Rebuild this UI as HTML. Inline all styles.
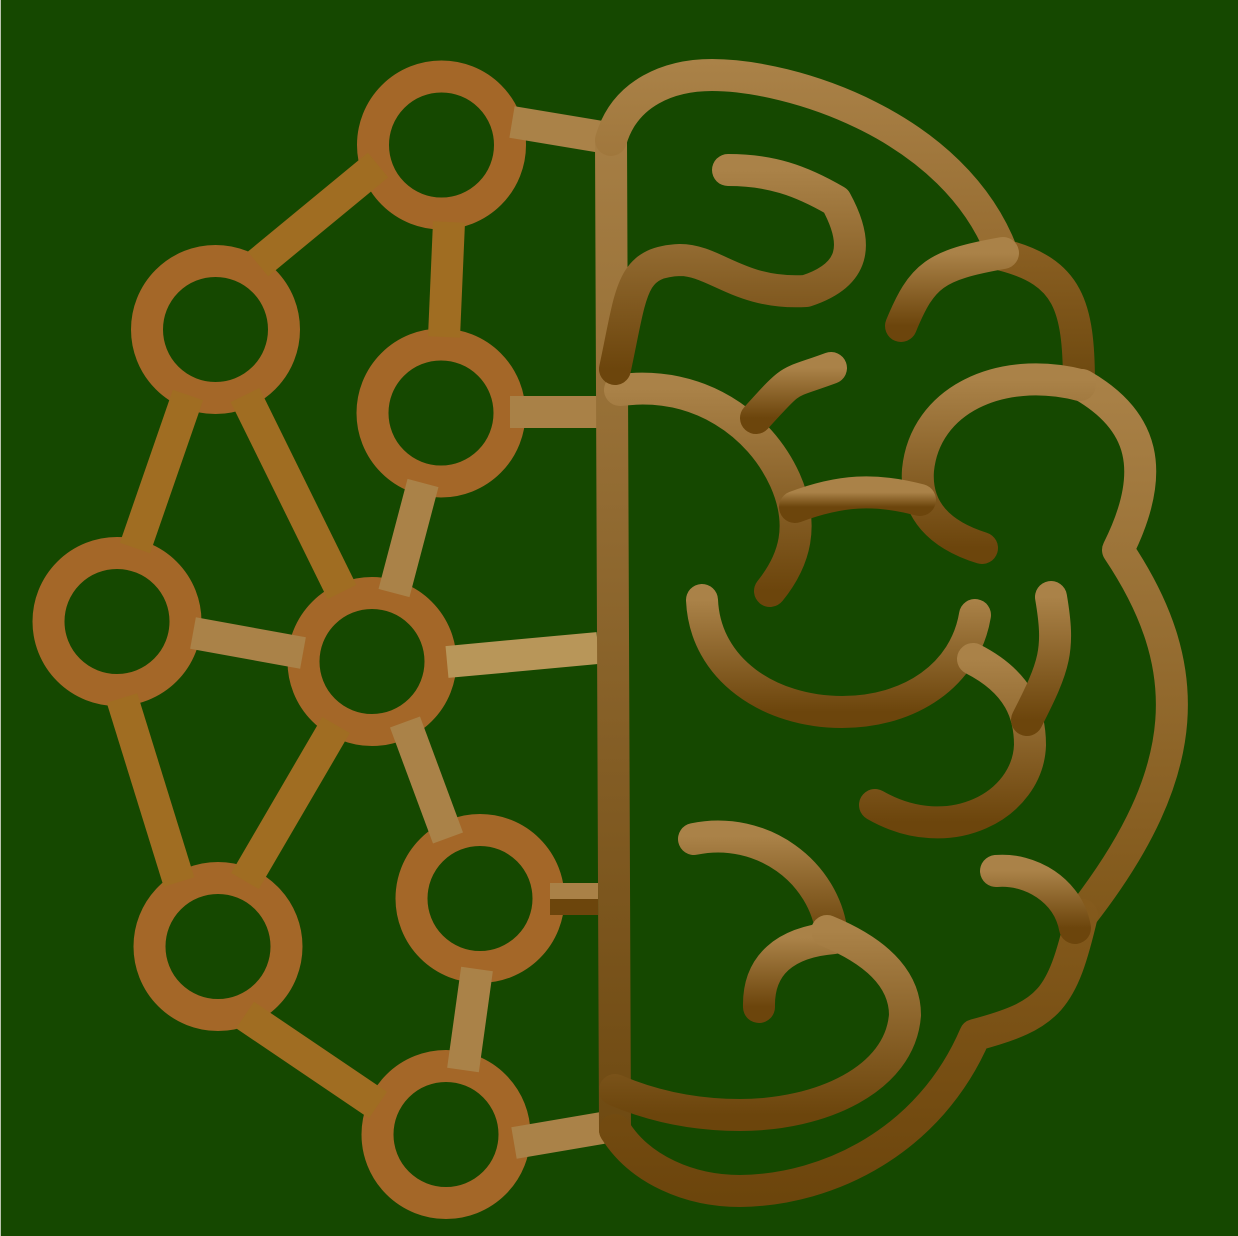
<!DOCTYPE html>
<html lang="en">
<head>
<meta charset="utf-8">
<title>AI brain icon</title>
<style>
html,body{margin:0;padding:0;background:#154800;width:1238px;height:1236px;overflow:hidden}
svg{display:block;position:absolute;left:0;top:0}
.n{fill:none;stroke:#a46728;stroke-width:32}
.l{stroke:#a06d22;stroke-width:32;fill:none}
.b{fill:none;stroke-width:32;stroke-linecap:butt}
.p{fill:none;stroke-width:32;stroke-linecap:round;stroke-linejoin:round}
</style>
</head>
<body>
<svg width="1238" height="1236" viewBox="0 0 1238 1236">
<defs>
<linearGradient id="g" x1="0" y1="0" x2="0" y2="1"><stop offset="0" stop-color="#aa8248"/><stop offset="1" stop-color="#6c450c"/></linearGradient>
<linearGradient id="g2" gradientUnits="userSpaceOnUse" x1="0" y1="60" x2="0" y2="1130"><stop offset="0" stop-color="#aa8248"/><stop offset="1" stop-color="#6f4a12"/></linearGradient>
<linearGradient id="g3" gradientUnits="userSpaceOnUse" x1="0" y1="60" x2="0" y2="420"><stop offset="0" stop-color="#aa8248"/><stop offset="1" stop-color="#85591c"/></linearGradient>
<linearGradient id="g4" gradientUnits="userSpaceOnUse" x1="0" y1="370" x2="0" y2="940"><stop offset="0" stop-color="#aa8248"/><stop offset="1" stop-color="#7f5618"/></linearGradient>
<linearGradient id="g5" gradientUnits="userSpaceOnUse" x1="0" y1="245" x2="0" y2="375"><stop offset="0" stop-color="#8a5f22"/><stop offset="1" stop-color="#6f4a10"/></linearGradient>
<linearGradient id="g6" gradientUnits="userSpaceOnUse" x1="0" y1="900" x2="0" y2="1200"><stop offset="0" stop-color="#845a1c"/><stop offset="1" stop-color="#6c450c"/></linearGradient>
</defs>
<rect x="0" y="0" width="1238" height="1236" fill="#154800"/>
<rect x="0" y="0" width="1" height="1236" fill="#b9c4ae"/>

<g>
<circle class="n" cx="441.5" cy="145" r="68.5"/>
<circle class="n" cx="215.5" cy="329.5" r="68.5"/>
<circle class="n" cx="441" cy="413" r="68.5"/>
<circle class="n" cx="117" cy="621.5" r="68.5"/>
<circle class="n" cx="372" cy="661.5" r="68.5"/>
<circle class="n" cx="218" cy="946.5" r="68.5"/>
<circle class="n" cx="480" cy="898.5" r="68.5"/>
<circle class="n" cx="446" cy="1134.5" r="68.5"/>
</g>

<g>
<line class="l" x1="378" y1="165" x2="258" y2="264"/>
<line class="l" x1="449" y1="222" x2="444" y2="337"/>
<line class="l" x1="188" y1="395" x2="135" y2="548"/>
<line class="l" x1="245" y1="395" x2="342" y2="592"/>
<line class="l" x1="122" y1="698" x2="179" y2="882"/>
<line class="l" x1="336" y1="725" x2="245" y2="881"/>
<line class="l" x1="245" y1="1015" x2="378" y2="1105"/>
</g>

<g>
<line class="b" stroke="#aa8248" x1="512" y1="122" x2="602" y2="137"/>
<line class="b" stroke="#a98147" x1="510" y1="412" x2="598" y2="412"/>
<line class="b" stroke="#aa8248" x1="423" y1="483" x2="394" y2="593"/>
<line class="b" stroke="#aa8248" x1="193" y1="633" x2="303" y2="653"/>
<line class="b" stroke="#b89659" x1="447" y1="662" x2="598" y2="648"/>
<line class="b" stroke="#aa8248" x1="405" y1="722" x2="448" y2="838"/>
<line class="b" stroke="#aa8248" x1="477" y1="969" x2="463" y2="1070"/>
<line class="b" stroke="#aa8248" x1="514" y1="1143" x2="602" y2="1128"/>
<rect x="550" y="883" width="48" height="16" fill="#a98147"/>
<rect x="550" y="899" width="48" height="16" fill="#6c450c"/>
</g>

<g>
<path class="p" stroke="url(#g2)" d="M611 140L615 1130"/>
<path class="p" stroke="url(#g3)" d="M611 140C625 92 670 75 712 75C790 75 955 125 1003 255"/>
<path class="p" stroke="url(#g5)" d="M1003 255C1068 272 1079 305 1079 385" stroke-linecap="butt"/>
<path class="p" stroke="url(#g)" d="M901 326C922 275 935 265 1003 253"/>
<path class="p" stroke="url(#g)" d="M620 390C700 380 760 425 785 480C805 525 795 560 770 591"/>
<path class="p" stroke="url(#g)" d="M728 170C770 170 800 180 836 201C860 245 855 275 806 291C740 295 715 260 680 260C630 262 632 290 615 369"/>
<path class="p" stroke="url(#g)" d="M756 418C795 375 785 385 831 368"/>
<path class="p" stroke="url(#g4)" d="M1082 385C1143 420 1158 470 1118 550C1195 665 1195 770 1082 915"/>
<path class="p" stroke="url(#g)" d="M1080 385C1000 365 925 400 918 470C915 510 940 535 982 548"/>
<path class="p" stroke="url(#g)" d="M795 507C840 490 875 488 920 500"/>
<path class="p" stroke="url(#g6)" d="M1082 915C1062 1000 1050 1015 975 1035C930 1140 830 1190 740 1191C690 1191 640 1170 615 1130"/>
<path class="p" stroke="url(#g)" d="M702 600C705 670 770 712 842 712C910 712 965 675 975 615"/>
<path class="p" stroke="url(#g)" d="M973 659C1020 683 1030 715 1030 745C1028 805 950 848 875 805"/>
<path class="p" stroke="url(#g)" d="M1051 597C1060 650 1055 665 1027 720"/>
<path class="p" stroke="url(#g)" d="M694 839C762 825 825 872 832 935"/>
<path class="p" stroke="url(#g)" d="M834 938C785 942 758 965 759 1007"/>
<path class="p" stroke="url(#g)" d="M827 931C885 955 905 985 905 1015C900 1080 820 1115 740 1115C690 1115 650 1105 615 1090"/>
<path class="p" stroke="url(#g)" d="M996 871C1030 868 1068 890 1075 928"/>
</g>
</svg>
</body>
</html>
